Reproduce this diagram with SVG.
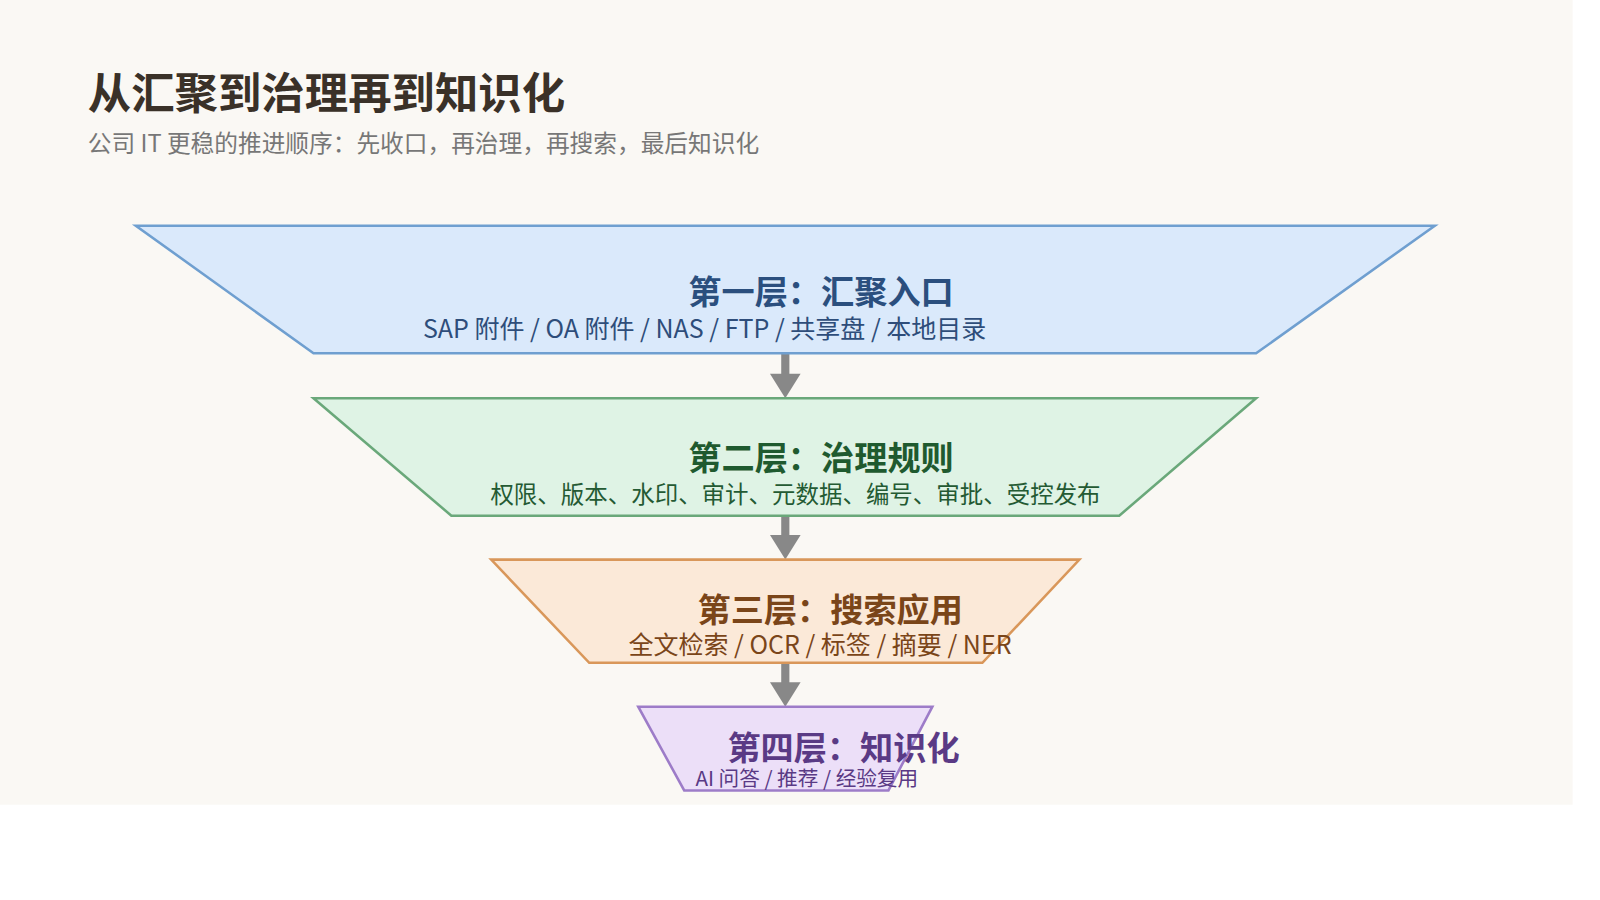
<svg xmlns="http://www.w3.org/2000/svg" width="1600" height="900" viewBox="0 0 1600 900">
<style>
text{font-family:"Noto Sans CJK SC","Noto Sans",sans-serif;text-anchor:middle}
.t{font-size:32.5px;font-weight:bold}
.s{font-size:24.5px}
.ln{stroke:#888;stroke-width:8}
.hd{fill:#888}
</style>
<rect width="1600" height="900" fill="#fff"/>
<g transform="scale(1.0212)">
<rect width="1540" height="788" fill="#faf8f4"/>
<text x="86" y="107" style="font-size:42.5px;font-weight:bold;text-anchor:start" fill="#3a3128">从汇聚到治理再到知识化</text>
<text x="86" y="149" style="font-size:23.2px;text-anchor:start" fill="#777">公司 IT 更稳的推进顺序：先收口，再治理，再搜索，最后知识化</text>
<g id="connectors">
<line class="ln" x1="769" y1="346" x2="769" y2="370"/><polygon class="hd" points="754,366 784,366 769,390"/>
<line class="ln" x1="769" y1="505" x2="769" y2="528"/><polygon class="hd" points="754,524 784,524 769,548"/>
<line class="ln" x1="769" y1="649" x2="769" y2="672"/><polygon class="hd" points="754,668 784,668 769,692"/>
</g>
<g id="layer1">
<polygon points="133,221 1405,221 1230,346 307,346" fill="#dae9fb" stroke="#6f9fd0" stroke-width="2.5"/>
<text class="t" x="804" y="298" fill="#2b4f7e">第一层：汇聚入口</text>
<text class="s" x="690" y="331" fill="#2e4d7a">SAP 附件 / OA 附件 / NAS / FTP / 共享盘 / 本地目录</text>
</g>
<g id="layer2">
<polygon points="307,390 1230,390 1096,505 442,505" fill="#dff3e5" stroke="#6aa87a" stroke-width="2.5"/>
<text class="t" x="804" y="460" fill="#1f5a2f">第二层：治理规则</text>
<text x="779" y="493" style="font-size:23px" fill="#245a33">权限、版本、水印、审计、元数据、编号、审批、受控发布</text>
</g>
<g id="layer3">
<polygon points="481,548 1057,548 962,649 577,649" fill="#fbe9d8" stroke="#d9975a" stroke-width="2.5"/>
<text class="t" x="813" y="609" fill="#7a4519">第三层：搜索应用</text>
<text class="s" x="803" y="640" fill="#7a4519">全文检索 / OCR / 标签 / 摘要 / NER</text>
</g>
<g id="layer4">
<polygon points="625,692 913,692 870,774 670,774" fill="#ecdff8" stroke="#9d7cc8" stroke-width="2.5"/>
<text class="t" x="826" y="744" fill="#5a3a85">第四层：知识化</text>
<text x="790" y="770" style="font-size:20.2px" fill="#5a3a85">AI 问答 / 推荐 / 经验复用</text>
</g>
</g>
</svg>
